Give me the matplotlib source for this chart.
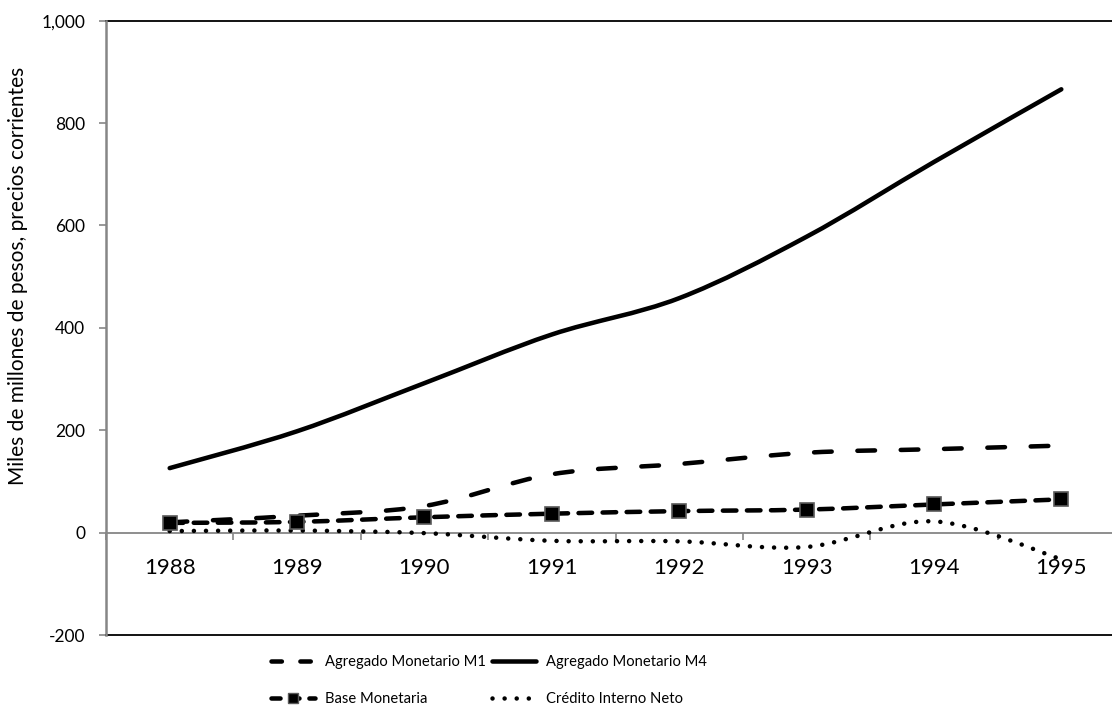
import numpy as np
import matplotlib
matplotlib.use("Agg")
import matplotlib.pyplot as plt
from matplotlib.path import Path
from matplotlib.patches import PathPatch
from matplotlib.lines import Line2D
from matplotlib.ticker import FuncFormatter

plt.rcParams['font.family'] = ['Lato', 'DejaVu Sans']

years = ['1988', '1989', '1990', '1991', '1992', '1993', '1994', '1995']
m1 = [20, 33, 52, 114, 134, 156, 163, 170]
m4 = [126, 198, 292, 387, 458, 578, 724, 866]
base = [19, 21, 30, 37, 42, 45, 55, 65]
credito = [3, 4, -1, -16, -17, -28, 22, -52]

AXIS_GRAY = '#868686'
LW = 3.25


def smooth_path(xs, ys):
    # cubic bezier through every point (catmull-rom style tangents)
    p = np.column_stack([xs, ys]).astype(float)
    ext = np.vstack([p[0], p, p[-1]])
    verts = [p[0]]
    codes = [Path.MOVETO]
    for i in range(len(p) - 1):
        a, b, c, d = ext[i], ext[i + 1], ext[i + 2], ext[i + 3]
        verts += [b + (c - a) / 6.0, c - (d - b) / 6.0, c]
        codes += [Path.CURVE4] * 3
    return Path(verts, codes)


def draw_series(ax, ys, dashes):
    xs = np.arange(len(ys))
    patch = PathPatch(smooth_path(xs, ys), fill=False, edgecolor='black',
                      linewidth=LW, capstyle='round', joinstyle='round',
                      linestyle=(0, dashes) if dashes else '-', zorder=3)
    ax.add_patch(patch)


fig = plt.figure(figsize=(11.12, 7.15), dpi=100)
ax = fig.add_axes([106 / 1112, 80 / 715, 1019 / 1112, 614.3 / 715])

m1_dash = (3.9, 5.7)
base_dash = (3.0, 2.33)
dot_dash = (0.01, 2.67)

draw_series(ax, m4, None)
draw_series(ax, m1, m1_dash)
draw_series(ax, base, base_dash)
draw_series(ax, credito, dot_dash)
ax.plot(np.arange(len(base)), base, linestyle='none', marker='s', markersize=9.4,
        markerfacecolor='black', markeredgecolor='#595959', markeredgewidth=1.2, zorder=4)

ax.set_xlim(-0.5, len(years) - 0.5)
ax.set_ylim(-200, 1000)
ax.set_yticks(np.arange(-200, 1001, 200))
ax.yaxis.set_major_formatter(FuncFormatter(lambda v, pos: f'{v:,.0f}'))

ax.set_xticks(np.arange(len(years)))
ax.set_xticklabels(years)
ax.set_xticks(np.arange(len(years) + 1) - 0.5, minor=True)
ax.tick_params(axis='x', which='major', length=0, pad=18, labelsize=16)
ax.tick_params(axis='x', which='minor', length=5, width=1.2, color=AXIS_GRAY, direction='out')
ax.tick_params(axis='y', length=5, width=1.2, color=AXIS_GRAY, direction='out',
               labelsize=12.5, pad=10)

ax.spines['bottom'].set_position(('data', 0))
ax.spines['bottom'].set_color(AXIS_GRAY)
ax.spines['bottom'].set_linewidth(1.3)
ax.spines['left'].set_color(AXIS_GRAY)
ax.spines['left'].set_linewidth(1.8)
ax.spines['left'].set_zorder(5)
for side in ('top', 'right'):
    ax.spines[side].set_color('black')
    ax.spines[side].set_linewidth(1.3)
# plot-area frame along the bottom
ax.plot([0, 1], [0, 0], transform=ax.transAxes, color='black', lw=1.3, clip_on=False, zorder=2)

fig.text(18 / 1112, 1 - 276 / 715, 'Miles de millones de pesos, precios corrientes',
         rotation=90, ha='center', va='center', fontsize=15)

handles = [
    Line2D([], [], color='black', lw=LW, dashes=(2.3, 4.1), dash_capstyle='round'),
    Line2D([], [], color='black', lw=LW, dashes=(2.0, 2.2), dash_capstyle='round',
           marker='s', markersize=6.5, markerfacecolor='black',
           markeredgecolor='#595959', markeredgewidth=1.0),
    Line2D([], [], color='black', lw=LW, solid_capstyle='round'),
    Line2D([], [], color='black', lw=LW, dashes=dot_dash, dash_capstyle='round'),
]
labels = ['Agregado Monetario M1', 'Base Monetaria',
          'Agregado Monetario M4', 'Crédito Interno Neto']
fig.legend(handles, labels, ncol=2, loc='upper left', bbox_to_anchor=(271 / 1112, 1 - 655 / 715),
           frameon=False, fontsize=10.6, handlelength=3.0, handletextpad=0.7,
           columnspacing=0.35, labelspacing=1.55, borderpad=0, borderaxespad=0)

fig.savefig('out.png', dpi=100)
